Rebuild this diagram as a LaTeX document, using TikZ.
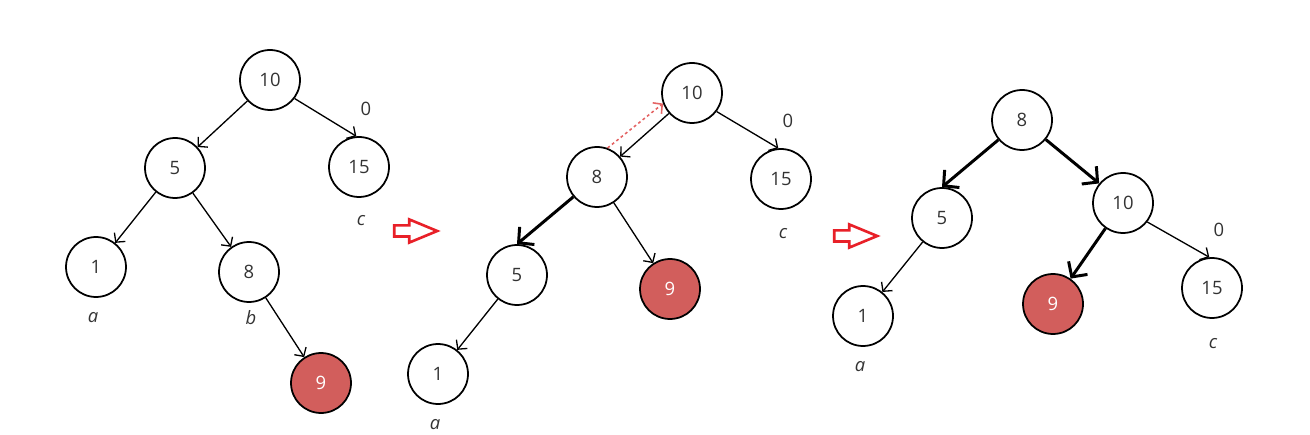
\documentclass[tikz,border=0pt]{standalone}
\usepackage{fontspec}
\setmainfont{Open Sans}
\usepackage{tikz}
\usetikzlibrary{arrows.meta,positioning,shapes.arrows,calc}
\definecolor{hotnode}{RGB}{210,94,92}
\definecolor{stepred}{RGB}{232,32,40}
\definecolor{rotred}{RGB}{228,100,100}
\tikzset{
  keynode/.style={circle,draw=black,line width=1pt,fill=white,minimum size=1.2cm,
                  inner sep=0pt,text=black!80,font=\fontsize{10.5}{12}\selectfont},
  newnode/.style={keynode,fill=hotnode,text=white},
  tag/.style={inner sep=0pt,text=black!80,font=\fontsize{10.5}{12}\selectfont\itshape},
  bal/.style={inner sep=0pt,text=black!80,font=\fontsize{10.5}{12}\selectfont},
  link/.style={-{Straight Barb[length=1.3mm,width=2.8mm]},line width=.75pt},
  moved/.style={-{Straight Barb[length=2.2mm,width=4.6mm]},line width=1.7pt},
  rotpath/.style={-{Straight Barb[length=1.3mm,width=2.8mm]},draw=rotred,
                  dash pattern=on 1.6pt off 1.6pt,line width=.9pt},
  nextstep/.style={single arrow,draw=stepred,line width=1.5pt,fill=white,
                   minimum height=.86cm,inner xsep=0pt,inner ysep=.085cm,
                   single arrow head extend=.12cm,single arrow tip angle=45},
}

\begin{document}
\begin{tikzpicture}[x=0.02cm,y=-0.02cm]
  \useasboundingbox (0,0) rectangle (1310,435);
  % before: 9 inserted under 8
  \node[keynode] (L10) at (270,80) {10};
  \node[keynode] (L5)  at (175,168) {5};
  \node[keynode] (L15) at (359,167) {15};
  \node[keynode] (L1)  at (96,267) {1};
  \node[keynode] (L8)  at (249,272) {8};
  \node[newnode] (L9)  at (321,383) {9};
  \node[bal] (L0) at ([shift={(7,-58)}]L15) {0};
  \node[tag] (Lc) at ([shift={(2,54)}]L15) {c};
  \node[tag] (La) at ([shift={(-3,51)}]L1) {a};
  \node[tag] (Lb) at ([shift={(2,46)}]L8) {b};
  \draw[link] (L10) -- (L5);
  \draw[link] (L10.-37) -- (L15.95);
  \draw[link] (L5) -- (L1);
  \draw[link] (L5) -- (L8);
  \draw[link] (L8) -- (L9);

  % after the left rotation at 5
  \node[keynode] (M10) at (692,93) {10};
  \node[keynode] (M8)  at (597,177) {8};
  \node[keynode] (M15) at (781,179) {15};
  \node[keynode] (M5)  at (517,275) {5};
  \node[newnode] (M9)  at (670,289) {9};
  \node[keynode] (M1)  at (438,374) {1};
  \node[bal] (M0) at ([shift={(7,-58)}]M15) {0};
  \node[tag] (Mc) at ([shift={(2,55)}]M15) {c};
  \node[tag] (Ma) at ([shift={(-3,51)}]M1) {a};
  \draw[link] (M10) -- (M8);
  \draw[link] (M10.-37) -- (M15.95);
  \draw[moved] (M8) -- (M5.north);
  \draw[link] (M8) -- (M9);
  \draw[link] (M5) -- (M1);
  \draw[rotpath] (M8.70) -- (M10.200);

  % after the right rotation at 10
  \node[keynode] (R8)  at (1022,120) {8};
  \node[keynode] (R5)  at (942,218) {5};
  \node[keynode] (R10) at (1123,203) {10};
  \node[keynode] (R1)  at (863,316) {1};
  \node[newnode] (R9)  at (1053,304) {9};
  \node[keynode] (R15) at (1212,288) {15};
  \node[bal] (R0) at ([shift={(7,-58)}]R15) {0};
  \node[tag] (Rc) at ([shift={(1,56)}]R15) {c};
  \node[tag] (Ra) at ([shift={(-3,51)}]R1) {a};
  \draw[moved] (R8) -- (R5.north);
  \draw[moved] (R8) -- (R10);
  \draw[moved] (R10) -- (R9);
  \draw[link] (R10.-38) -- (R15.95);
  \draw[link] (R5) -- (R1);

  % step arrows
  \foreach \x/\y [count=\i] in {409/231,849/236}
    \node[nextstep] (step\i) at (\x,\y) {};
\end{tikzpicture}
\end{document}
